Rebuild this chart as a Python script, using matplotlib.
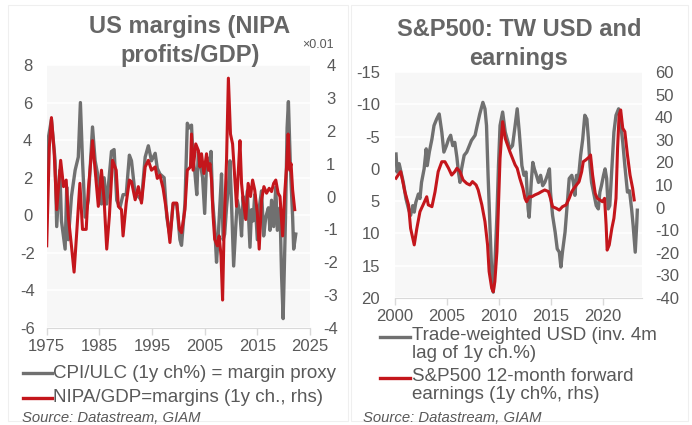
import matplotlib
matplotlib.use("Agg")
import matplotlib.pyplot as plt
from matplotlib.lines import Line2D
from matplotlib.patches import Rectangle

plt.rcParams['font.family'] = ['Liberation Sans', 'DejaVu Sans']
plt.rcParams['axes.unicode_minus'] = False

GREY = '#707070'
RED = '#c4161c'
TXT = '#595959'
BG = '#f7f7f7'

# --- left chart: CPI/ULC margin proxy (lhs) vs NIPA/GDP (rhs, x0.01) ---
proxy_years = [1975.0, 1975.3, 1975.9, 1976.6, 1976.9, 1977.5, 1977.8, 1978.5, 1978.8, 1979.1,
               1979.7, 1980.4, 1981.0, 1981.4, 1981.8, 1982.3, 1982.9, 1983.7, 1984.2, 1984.8,
               1985.4, 1985.9, 1986.4, 1987.3, 1987.8, 1988.3, 1988.9, 1989.5, 1990.1, 1990.7,
               1991.1, 1991.8, 1992.4, 1993.0, 1993.7, 1994.3, 1994.9, 1995.6, 1996.0, 1996.5,
               1997.3, 1997.8, 1998.4, 1999.0, 1999.7, 2000.3, 2000.6, 2001.25, 2001.7, 2002.1,
               2002.5, 2002.8, 2003.1, 2003.5, 2003.8, 2004.1, 2004.6, 2005.0, 2005.4, 2005.9,
               2006.2, 2006.5, 2006.9, 2007.25, 2007.6, 2007.9, 2008.2, 2008.5, 2008.8, 2009.15,
               2009.5, 2009.8, 2010.1, 2010.5, 2010.9, 2011.2, 2011.7, 2012.0, 2012.3, 2012.6,
               2013.1, 2013.6, 2013.9, 2014.2, 2014.5, 2015.0, 2015.35, 2015.8, 2016.2, 2016.6,
               2017.1, 2017.4, 2017.7, 2018.1, 2018.5, 2018.8, 2019.3, 2019.6, 2019.9, 2020.35,
               2020.65, 2020.9, 2021.3, 2021.7, 2021.9, 2022.3]
proxy = [0.1, 4.1, 5.1, 2.9, -0.6, 2.4, -0.3, -1.8, 1.5, -1.3,
         1.0, 2.4, 3.1, 6.0, 2.9, -0.1, 0.8, 4.7, 2.9, 2.0,
         0.6, 2.0, 0.6, 3.4, 3.5, 0.8, 0.4, 1.1, 1.1, 3.2,
         2.9, 1.1, 1.0, 0.8, 3.1, 3.7, 2.9, 3.3, 2.5, 2.2,
         2.0, -0.1, -1.1, 0.6, 0.6, -1.3, -1.6, 0.6, 4.9, 4.65,
         4.8, 2.9, 2.4, 1.1, 3.4, 2.9, 2.0, 0.1, 3.1, 2.4,
         3.4, 0.8, -0.6, -2.5, -1.0, 0.6, 2.2, -1.3, -1.0, 0.4,
         1.5, 2.9, 0.6, -2.7, -0.6, 0.8, 0.1, -1.1, 1.0, -0.1,
         1.3, -1.7, 0.3, -0.3, 1.1, -1.3, 0.4, 1.3, -1.1, -0.1,
         0.4, -0.8, 0.8, -0.6, 1.5, -0.8, 0.4, -3.2, -5.5, -0.1,
         4.65, 6.05, 2.4, -0.1, -1.8, -1.0]

nipa_years = [1975.0, 1975.5, 1975.9, 1976.4, 1976.9, 1977.65, 1978.2, 1978.7, 1979.1, 1979.7,
              1980.2, 1980.7, 1981.3, 1981.8, 1982.5, 1982.9, 1983.7, 1984.2, 1984.8, 1985.4,
              1985.9, 1986.4, 1986.9, 1987.5, 1988.2, 1988.6, 1989.2, 1989.5, 1990.1, 1990.7,
              1991.1, 1991.8, 1992.4, 1993.0, 1993.7, 1994.3, 1994.9, 1995.6, 1996.0, 1996.5,
              1997.1, 1997.8, 1998.4, 1999.0, 1999.7, 2000.2, 2000.6, 2001.25, 2001.7, 2002.3,
              2002.5, 2002.8, 2003.3, 2003.8, 2004.1, 2004.4, 2004.85, 2005.35, 2005.7, 2006.0,
              2006.3, 2006.6, 2006.9, 2007.4, 2007.75, 2008.1, 2008.4, 2008.7, 2009.15, 2009.5,
              2009.9, 2010.3, 2010.7, 2011.05, 2011.4, 2011.7, 2012.0, 2012.3, 2012.8, 2013.25,
              2013.7, 2014.1, 2014.5, 2015.0, 2015.35, 2015.8, 2016.25, 2016.75, 2017.25, 2017.7,
              2018.1, 2018.5, 2018.95, 2019.3, 2019.8, 2020.2, 2020.55, 2020.85, 2021.15, 2021.4,
              2021.7, 2022.1]
nipa = [-1.5, 1.5, 2.4, 1.4, -0.4, 1.1, 0.3, 0.5, -0.6, -1.5,
        -2.3, -1.1, 0.4, -1.0, -1.0, 0.2, 1.7, 0.8, -0.3, 0.8,
        -0.1, -1.6, -0.6, 1.1, 0.8, -0.3, -0.4, -1.2, -0.2, 0.5,
        0.45, -0.1, 0.3, -0.2, 0.9, 1.1, 0.8, 0.9, 0.55, 0.65,
        0.25, -0.5, -1.4, -0.2, -0.2, -1.0, -1.1, -0.4, 0.8, 0.9,
        1.9, 0.8, 1.6, 1.4, 0.9, 1.3, 0.7, 1.3, 0.8, 1.0,
        0.5, -0.6, -1.3, -1.5, -1.2, -1.8, -3.15, -0.9, 1.1, 3.6,
        1.9, 1.6, 0.6, -0.3, 0.8, 1.7, 0.4, -0.1, -0.7, 0.4,
        0.0, 0.5, 0.2, -0.5, -1.6, -0.1, 0.3, 0.1, 0.25, 0.15,
        0.4, 0.5, 0.1, 0.0, -1.2, 0.1, 0.9, 1.9, 0.8, 1.0,
        0.2, -0.4]

# --- right chart: trade-weighted USD (lhs, inverted) vs S&P500 fwd EPS (rhs) ---
usd_years = [2000.1, 2000.2, 2000.4, 2000.65, 2000.8, 2001.05, 2001.3, 2001.5, 2001.7, 2001.85,
             2002.0, 2002.25, 2002.4, 2002.55, 2002.8, 2003.0, 2003.1, 2003.3, 2003.55, 2003.75,
             2004.0, 2004.25, 2004.5, 2004.7, 2004.95, 2005.15, 2005.35, 2005.55, 2005.75, 2005.95,
             2006.1, 2006.25, 2006.4, 2006.65, 2006.9, 2007.15, 2007.35, 2007.7, 2007.9, 2008.15,
             2008.45, 2008.65, 2008.8, 2008.95, 2009.15, 2009.3, 2009.45, 2009.6, 2009.8, 2009.95,
             2010.1, 2010.35, 2010.6, 2011.05, 2011.3, 2011.55, 2011.75, 2011.95, 2012.2, 2012.4,
             2012.6, 2012.8, 2012.9, 2013.1, 2013.25, 2013.4, 2013.6, 2013.8, 2014.0, 2014.2,
             2014.4, 2014.65, 2014.85, 2014.95, 2015.15, 2015.4, 2015.6, 2015.8, 2015.95, 2016.1,
             2016.35, 2016.55, 2016.75, 2017.0, 2017.15, 2017.3, 2017.45, 2017.6, 2017.85, 2018.05,
             2018.25, 2018.45, 2018.6, 2018.75, 2018.9, 2019.15, 2019.35, 2019.55, 2019.7, 2019.85,
             2020.05, 2020.2, 2020.35, 2020.5, 2020.65, 2020.85, 2021.05, 2021.25, 2021.5, 2021.65,
             2021.9, 2022.1, 2022.35, 2022.55, 2022.75, 2022.9, 2023.1, 2023.25, 2023.3]
usd = [-2.3, 0.5, -0.8, 1.0, 2.1, 4.6, 6.2, 7.2, 5.7, 6.7,
       5.2, 3.9, 4.6, 2.1, 0.0, -3.1, -0.5, -2.6, -4.6, -6.7,
       -7.7, -8.5, -5.7, -2.6, -3.6, -4.6, -5.2, -3.6, -4.1, -1.8,
       0.5, 2.1, 0.0, -2.1, -2.6, -3.6, -4.4, -5.2, -6.7, -8.5,
       -10.3, -9.3, -6.7, 1.0, 9.8, 16.0, 19.1, 15.0, 7.2, -0.5,
       -6.7, -8.8, -5.7, -3.1, -3.6, -6.7, -9.3, -5.7, -0.5, 1.0,
       0.5, 6.2, 7.5, 2.1, -1.0, 0.0, 1.0, 2.1, 1.0, 2.6,
       2.1, 1.0, 0.0, 3.6, 7.2, 9.8, 12.4, 12.9, 15.2, 12.9,
       9.8, 5.7, 1.5, 1.0, 2.1, 4.1, 1.0, 2.1, -2.1, -4.6,
       -8.3, -7.7, -4.6, -0.5, 2.1, 4.1, 5.7, 6.2, 3.6, 2.6,
       1.0, 0.0, 1.5, 6.2, 5.7, 0.0, -5.7, -8.3, -9.3, -7.7,
       -4.1, -0.5, 3.6, 3.4, 6.2, 8.8, 12.9, 8.3, 6.4]

eps_years = [2000.1, 2000.3, 2000.55, 2000.75, 2000.95, 2001.3, 2001.5, 2001.85, 2002.1, 2002.4,
             2002.7, 2003.05, 2003.2, 2003.55, 2003.85, 2004.15, 2004.5, 2004.8, 2005.15, 2005.45,
             2005.75, 2005.95, 2006.25, 2006.55, 2006.9, 2007.2, 2007.45, 2007.8, 2008.0, 2008.35,
             2008.65, 2008.9, 2009.05, 2009.3, 2009.45, 2009.6, 2009.8, 2009.95, 2010.1, 2010.35,
             2010.6, 2011.05, 2011.3, 2011.55, 2011.75, 2012.0, 2012.3, 2012.5, 2012.65, 2012.9,
             2013.15, 2013.45, 2013.8, 2014.1, 2014.4, 2014.75, 2014.95, 2015.15, 2015.5, 2015.8,
             2016.1, 2016.45, 2016.75, 2017.0, 2017.2, 2017.45, 2017.7, 2017.95, 2018.1, 2018.35,
             2018.7, 2018.8, 2019.0, 2019.25, 2019.45, 2019.7, 2019.95, 2020.15, 2020.3, 2020.4,
             2020.6, 2020.85, 2021.05, 2021.25, 2021.4, 2021.55, 2021.7, 2021.9, 2022.1, 2022.35,
             2022.6, 2022.85, 2023.0]
eps = [13.0, 14.4, 15.9, 11.5, 7.0, 1.2, -9.2, -16.5, -9.2, -1.8,
       1.2, 4.8, 1.2, 0.4, 7.0, 15.9, 20.3, 20.3, 17.4, 14.4,
       15.9, 17.4, 15.9, 12.2, 10.7, 10.0, 11.5, 10.0, 7.8, 1.2,
       -6.2, -16.5, -28.3, -35.7, -37.2, -32.8, -19.5, 1.2, 21.8, 38.0,
       30.6, 24.7, 21.8, 18.9, 17.4, 13.0, 8.5, 4.1, 2.6, 4.8,
       4.8, 5.6, 6.3, 7.1, 7.8, 7.1, 4.1, 0.4, -0.3, -1.1,
       0.4, 1.2, 4.1, 7.1, 8.5, 10.0, 11.5, 15.9, 20.3, 21.1,
       22.5, 23.3, 14.4, 6.3, 4.1, 3.4, 2.6, 4.1, -7.7, -18.8,
       -16.5, -9.2, -4.7, 4.1, 26.2, 41.0, 43.2, 35.1, 33.6, 23.3,
       14.4, 8.5, 3.4]

left_ticks = [8, 6, 4, 2, 0, -2, -4, -6]
left_rticks = [4, 3, 2, 1, 0, -1, -2, -3, -4]
left_years = [1975, 1985, 1995, 2005, 2015, 2025]
right_ticks = [-15, -10, -5, 0, 5, 10, 15, 20]
right_rticks = [60, 50, 40, 30, 20, 10, 0, -10, -20, -30, -40]
right_years = [2000, 2005, 2010, 2015, 2020]

W, H = 692, 425
fig = plt.figure(figsize=(W / 100, H / 100), dpi=100)
fig.patch.set_facecolor('white')

# faint panel frames
for x0, x1 in [(8, 348), (351, 688)]:
    fig.add_artist(Rectangle((x0 / W, 4 / H), (x1 - x0) / W, (H - 9) / H,
                             transform=fig.transFigure, fill=False,
                             edgecolor='#efefef', lw=0.8))

TICK_FS = 12


def style_axes(ax, ax2, lpad, rpad, lha, rha):
    ax.set_facecolor(BG)
    ax.grid(axis='y', color='white', lw=1.2)
    ax.set_axisbelow(True)
    for s in ['top', 'right', 'left']:
        ax.spines[s].set_visible(False)
    for s in ['top', 'right', 'left', 'bottom']:
        ax2.spines[s].set_visible(False)
    ax.spines['bottom'].set_color('#d9d9d9')
    ax.tick_params(axis='x', colors='#d9d9d9', length=5, width=1,
                   labelcolor=TXT, labelsize=TICK_FS, pad=3)
    ax.tick_params(axis='y', length=0, labelcolor=TXT, labelsize=TICK_FS, pad=lpad)
    ax2.tick_params(axis='y', length=0, labelcolor=TXT, labelsize=TICK_FS, pad=rpad)
    for lab in ax.get_yticklabels():
        lab.set_horizontalalignment(lha)
    for lab in ax2.get_yticklabels():
        lab.set_horizontalalignment(rha)


# ---------------- left panel ----------------
axL = fig.add_axes([46.7 / W, 1 - 328 / H, (310 - 46.7) / W, (328 - 65) / H])
axL2 = axL.twinx()
axL.plot(proxy_years, proxy, color=GREY, lw=2.4, zorder=2)
axL2.plot(nipa_years, nipa, color=RED, lw=2.2, zorder=3)
axL.set_xlim(1975, 2025)
axL.set_ylim(-6, 8)
axL2.set_ylim(-4, 4)
axL.set_xticks(left_years)
axL.set_yticks(left_ticks)
axL2.set_yticks(left_rticks)
style_axes(axL, axL2, 13.8, 15, 'center', 'center')
fig.text(318 / W, 1 - 45 / H, '×0.01', color=TXT, fontsize=9, ha='center', va='center')

fig.text(190 / W, 1 - 41 / H, 'US margins (NIPA\nprofits/GDP)', color='#666666',
         fontsize=17, fontweight='bold', ha='center', va='center', linespacing=1.35)

# legend left
for yy, col, lab in [(373, GREY, 'CPI/ULC (1y ch%) = margin proxy'),
                     (398, RED, 'NIPA/GDP=margins (1y ch., rhs)')]:
    fig.add_artist(Line2D([23 / W, 52 / W], [1 - yy / H, 1 - yy / H], color=col, lw=2.4))
    fig.text(53 / W, 1 - yy / H, lab, color=TXT, fontsize=13.5, ha='left', va='center')
fig.text(22 / W, 1 - 418 / H, 'Source: Datastream, GIAM', color=TXT, fontsize=10.7,
         style='italic', ha='left', va='center')

# ---------------- right panel ----------------
axR = fig.add_axes([395 / W, 1 - 298 / H, (642 - 395) / W, (298 - 72) / H])
axR2 = axR.twinx()
axR.plot(usd_years, usd, color=GREY, lw=2.4, zorder=2)
axR2.plot(eps_years, eps, color=RED, lw=2.2, zorder=3)
axR.set_xlim(2000, 2023.75)
axR.set_ylim(20, -15)
axR2.set_ylim(-40, 60)
axR.set_xticks(right_years)
axR.set_yticks(right_ticks)
axR2.set_yticks(right_rticks)
style_axes(axR, axR2, 10.8, 9.4, 'right', 'left')

fig.text(519 / W, 1 - 44 / H, 'S&P500: TW USD and\nearnings', color='#666666',
         fontsize=17, fontweight='bold', ha='center', va='center', linespacing=1.35)

for yy, col, lab in [(337, GREY, 'Trade-weighted USD (inv. 4m\nlag of 1y ch.%)'),
                     (378, RED, 'S&P500 12-month forward\nearnings (1y ch%, rhs)')]:
    fig.add_artist(Line2D([380 / W, 410 / W], [1 - yy / H, 1 - yy / H], color=col, lw=2.4))
    fig.text(412 / W, 1 - (yy - 10) / H, lab, color=TXT, fontsize=13.5, ha='left', va='top',
             linespacing=1.05)
fig.text(363 / W, 1 - 418 / H, 'Source: Datastream, GIAM', color=TXT, fontsize=10.7,
         style='italic', ha='left', va='center')

fig.savefig('out.png', dpi=100)
